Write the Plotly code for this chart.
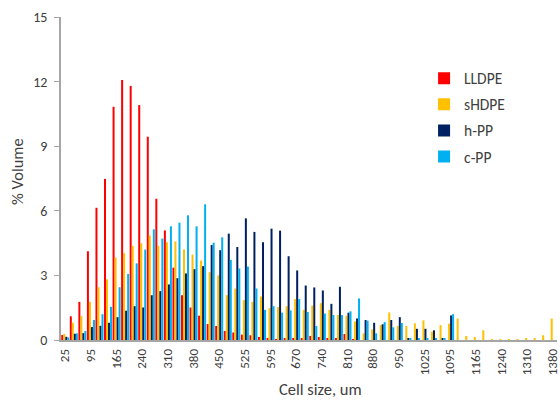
import plotly.graph_objects as go

categories = ["25", "48", "72", "95", "118", "142", "165", "190", "215", "240",
              "263", "287", "310", "333", "357", "380", "403", "427", "450", "475",
              "500", "525", "548", "572", "595", "620", "645", "670", "693", "717",
              "740", "763", "787", "810", "833", "857", "880", "903", "927", "950",
              "975", "1000", "1025", "1048", "1072", "1095", "1118", "1142", "1165", "1190",
              "1215", "1240", "1263", "1287", "1310", "1333", "1357", "1380"]

tick_labels = ["25", "95", "165", "240", "310", "380", "450", "525", "595", "670",
               "740", "810", "880", "950", "1025", "1095", "1165", "1240", "1310", "1380"]

lldpe = [0.23, 1.1, 1.77, 4.12, 6.14, 7.48, 10.83, 12.08, 11.8, 10.91,
         9.44, 6.56, 5.09, 3.36, 2.08, 1.51, 1.13, 0.74, 0.65, 0.42,
         0.35, 0.25, 0.22, 0.14, 0.08, 0.03, 0.05, 0.09, 0.05, 0.19,
         0.14, 0.08, 0.05, 0.28, 0.03, 0, 0, 0, 0, 0,
         0, 0, 0, 0, 0, 0, 0, 0, 0, 0,
         0, 0, 0, 0, 0, 0, 0, 0]

shdpe = [0.28, 0.8, 1.11, 1.77, 2.45, 2.82, 3.83, 4.03, 4.37, 4.49,
         4.85, 4.37, 4.54, 4.58, 4.21, 3.97, 3.69, 3.15, 3.0, 2.08,
         2.39, 1.85, 1.77, 2.02, 1.48, 1.53, 1.57, 1.9, 1.4, 1.6,
         1.71, 1.4, 1.16, 1.13, 0.86, 0.31, 0.49, 0.69, 1.28, 0.65,
         0.65, 0.77, 0.91, 0.39, 0.69, 0.76, 1.0, 0.19, 0.14, 0.45,
         0.03, 0.03, 0.03, 0.03, 0.08, 0.05, 0.22, 1.0]

hpp = [0.15, 0.29, 0.32, 0.6, 0.66, 0.8, 1.06, 1.36, 1.57, 1.51,
       2.08, 2.27, 2.58, 2.87, 3.09, 3.29, 3.43, 4.41, 4.17, 4.94,
       4.32, 5.65, 5.02, 4.54, 5.17, 5.08, 3.89, 3.23, 2.53, 2.44,
       2.3, 1.68, 2.47, 1.27, 1.0, 0.93, 0.8, 0.73, 0.93, 1.06,
       0.08, 0.52, 0.52, 0.45, 0.08, 1.14, 0, 0, 0, 0,
       0, 0, 0, 0, 0, 0, 0, 0]

cpp = [0.12, 0.31, 0.42, 0.93, 1.2, 1.54, 2.45, 3.07, 3.56, 4.2,
       5.14, 4.71, 5.28, 5.45, 5.79, 5.28, 6.3, 4.52, 4.77, 3.72,
       3.32, 3.41, 2.39, 1.4, 1.57, 1.27, 1.37, 1.9, 1.3, 0.65,
       1.23, 1.16, 1.16, 1.33, 1.93, 0.9, 0.31, 0.83, 0.59, 0.79,
       0.05, 0.05, 0.05, 0.05, 0.08, 1.2, 0, 0, 0, 0,
       0, 0, 0, 0, 0, 0, 0, 0]

series = [("LLDPE", lldpe, "#FF0000"),
          ("sHDPE", shdpe, "#FFC000"),
          ("h-PP", hpp, "#002060"),
          ("c-PP", cpp, "#00B0F0")]

FONT = "Calibri, Carlito, Lato, sans-serif"

L, R, T, B = 61, 3, 17, 63
W, H = 560, 403
pw = W - L - R
ph = H - T - B

fig = go.Figure()
for name, vals, color in series:
    fig.add_trace(go.Bar(x=categories, y=vals, name=name, legendgroup=name,
                         marker=dict(color=color, line=dict(width=0))))

fig.update_layout(
    width=W, height=H,
    margin=dict(l=L, r=R, t=T, b=B, autoexpand=False),
    paper_bgcolor="white", plot_bgcolor="white",
    barmode="group", bargap=0.06, bargroupgap=0,
    font=dict(family=FONT, color="#404040"),
    showlegend=True,
    legend=dict(x=0.732, y=0.862, xanchor="left", yanchor="top",
                font=dict(size=15.5, color="#404040", family=FONT),
                tracegroupgap=3, bgcolor="rgba(0,0,0,0)", itemwidth=30),
    xaxis=dict(type="category", tickmode="array", tickvals=tick_labels, ticktext=tick_labels,
               tickangle=-90, tickfont=dict(size=13, color="#404040"),
               showline=True, linecolor="#A6A6A6", linewidth=1.5,
               showgrid=False, ticks="", ticklabelstandoff=2, zeroline=False,
               automargin=False),
    yaxis=dict(range=[0, 15], tickmode="linear", tick0=0, dtick=3,
               tickfont=dict(size=14, color="#404040"),
               showline=True, linecolor="#A6A6A6", linewidth=1.5,
               ticks="outside", ticklen=5, tickcolor="#A6A6A6", tickwidth=1,
               showgrid=False, zeroline=False, ticklabelstandoff=4,
               automargin=False),
    annotations=[
        dict(text="% Volume", x=(17 - L) / pw, y=(H - B - 172) / ph,
             xref="paper", yref="paper", showarrow=False, textangle=-90,
             xanchor="center", yanchor="middle",
             font=dict(size=16.5, color="#404040", family=FONT)),
        dict(text="Cell size, um", x=(320 - L) / pw, y=(H - B - 389) / ph,
             xref="paper", yref="paper", showarrow=False,
             xanchor="center", yanchor="middle",
             font=dict(size=16.5, color="#404040", family=FONT)),
    ],
)

fig.write_html("out.html", config={"displayModeBar": False},
               post_script="document.body.style.margin='0';document.body.style.padding='0';")
